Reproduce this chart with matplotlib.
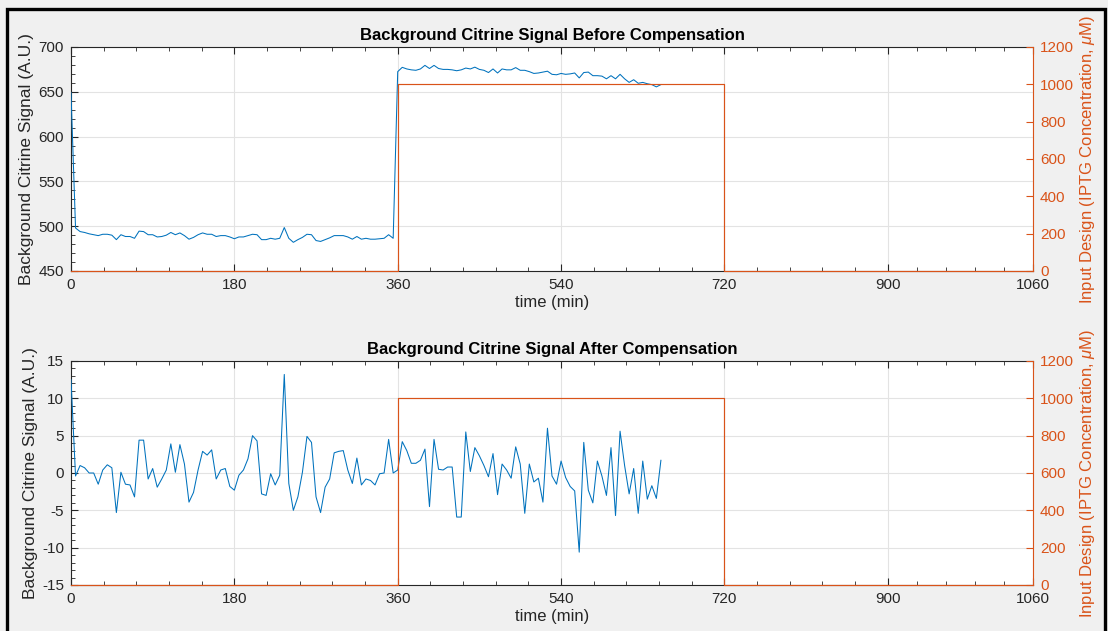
import numpy as np
import matplotlib
matplotlib.use('Agg')
import matplotlib.pyplot as plt
from matplotlib.ticker import FixedLocator
from matplotlib.patches import Rectangle

plt.rcParams['font.family'] = ['Liberation Sans', 'DejaVu Sans']
plt.rcParams['mathtext.fontset'] = 'custom'
plt.rcParams['mathtext.it'] = 'Liberation Sans:italic'
plt.rcParams['axes.unicode_minus'] = False

BLUE = '#0072BD'
ORANGE = '#D95319'
DARK = '#262626'

# sampling times (min), every 5 min up to 650
t_min = np.arange(0, 651, 5)

# background citrine signal before compensation (A.U.)
before_low = [649, 498, 494, 493, 491.5, 490.5, 489.5, 491, 491, 490, 485, 490.5,
              488.5, 488.5, 486.5, 494.5, 494, 490.5, 490.5, 488, 488.5, 490, 493, 490.5,
              492.5, 489.5, 485.5, 487.5, 490.5, 492.5, 491, 491, 488.5, 489.5, 489.5, 488,
              486, 488, 488, 489.5, 491, 490.5, 485, 485, 486.5, 485.5, 486.5, 498.5,
              486.5, 482, 485, 487.5, 491, 490.5, 484, 483, 485, 487, 489.5, 489.5,
              489.5, 488, 485.5, 488.5, 485.5, 486.5, 485.5, 485.5, 486, 486.5, 490.5, 486.5]
before_high = [672.5, 677.3, 675.5, 674.5, 674, 675.5, 679.5, 676, 679.5, 676, 675, 675,
               674.5, 673.5, 674.5, 676.5, 675.5, 677.5, 675, 674, 671.5, 675.5, 671, 675.5,
               674.5, 674.5, 677, 674, 674, 672.5, 670.5, 671, 672, 673, 669.5, 669,
               670.5, 669.5, 670, 671, 665.5, 671.5, 672, 668, 668, 667.5, 664.5, 668,
               664.5, 669.5, 664.5, 660.5, 663.5, 659.5, 660.5, 659, 658, 655.5, 658]
signal_before = before_low + before_high

# background citrine signal after compensation (A.U.)
after_low = [12.5, -0.4, 1.0, 0.7, 0, 0, -1.5, 0.4, 1.1, 0.7, -5.3, 0.1,
             -1.5, -1.6, -3.2, 4.4, 4.4, -0.8, 0.6, -1.9, -0.8, 0.4, 3.9, 0.1,
             3.8, 1.2, -3.9, -2.6, 0.4, 2.9, 2.4, 3.1, -0.8, 0.4, 0.6, -1.8,
             -2.3, -0.3, 0.4, 1.9, 5.0, 4.3, -2.8, -3.0, -0.1, -1.6, -0.3, 13.2,
             -1.4, -5.0, -3.2, 0.1, 4.9, 4.1, -3.2, -5.3, -1.9, -0.8, 2.7, 2.9,
             3.0, 0.4, -1.4, 2.0, -1.6, -0.8, -1.0, -1.6, -0.1, 0, 4.5, 0]
after_high = [0.4, 4.2, 3.0, 1.3, 1.3, 1.7, 3.2, -4.5, 4.5, 0.5, 0.4, 0.8,
              0.8, -5.9, -5.9, 5.5, 0.2, 3.4, 2.3, 1.0, -0.5, 2.6, -2.9, 1.2,
              0.4, -0.7, 3.5, 1.2, -5.4, 1.2, -1.2, -0.7, -3.9, 6.0, -0.4, -1.5,
              1.6, -0.6, -1.8, -2.4, -10.6, 4.1, -2.3, -4.0, 1.6, -0.4, -3.0, 3.4,
              -5.7, 5.6, 1.0, -2.8, 0.6, -5.4, 1.6, -3.5, -1.7, -3.4, 1.7]
signal_after = after_low + after_high

# IPTG input design (uM), step function
input_t = [0, 360, 720, 1060]
input_u = [0, 1000, 0, 0]

xticks = [0, 180, 360, 540, 720, 900, 1060]
titles = ['Background Citrine Signal Before Compensation',
          'Background Citrine Signal After Compensation']
ylims = [(450, 700), (-15, 15)]
yticks = [np.arange(450, 701, 50), np.arange(-15, 16, 5)]
yminor = [np.arange(450, 701, 10), np.arange(-15, 16, 1)]

fig = plt.figure(figsize=(11.08, 6.31), dpi=100, facecolor='#F0F0F0')

x_minor = []
for a, b in zip(xticks[:-1], xticks[1:]):
    x_minor += list(np.linspace(a, b, 6)[1:-1])

bottoms = [1 - 271 / 631, 1 - 585 / 631]
for i, sig in enumerate([signal_before, signal_after]):
    ax = fig.add_axes([71 / 1108, bottoms[i], 962 / 1108, 224 / 631])
    ax.set_facecolor('white')
    ax.plot(t_min, sig, color=BLUE, lw=0.75, zorder=3)
    ax.set_xlim(0, 1060)
    ax.set_ylim(*ylims[i])
    ax.set_xticks(xticks)
    ax.set_yticks(yticks[i])
    ax.xaxis.set_minor_locator(FixedLocator(x_minor))
    ax.yaxis.set_minor_locator(FixedLocator(yminor[i]))
    ax.grid(True, which='major', color='#E3E3E3', lw=0.8)
    ax.set_axisbelow(True)
    ax.tick_params(which='both', direction='in', top=True, right=False,
                   colors=DARK, labelsize=11, pad=5)
    ax.tick_params(which='major', length=5, width=0.8)
    ax.tick_params(which='minor', length=3, width=0.6)
    for s in ['left', 'top', 'bottom']:
        ax.spines[s].set_color(DARK)
        ax.spines[s].set_linewidth(0.8)
    ax.spines['right'].set_visible(False)
    ax.set_title(titles[i], fontsize=12, fontweight='bold', pad=5, color='black')
    ax.set_xlabel('time (min)', fontsize=12, labelpad=2, color=DARK)
    ax.set_ylabel('Background Citrine Signal (A.U.)', fontsize=12.5, labelpad=3, color=DARK)

    ax2 = ax.twinx()
    ax2.step(input_t, input_u, where='post', color=ORANGE, lw=0.85, clip_on=False, zorder=4)
    ax2.set_ylim(0, 1200)
    ax2.set_yticks(np.arange(0, 1201, 200))
    ax2.tick_params(axis='y', direction='in', colors=ORANGE, labelsize=11,
                    length=5, width=0.8, pad=5)
    for s in ['left', 'top', 'bottom']:
        ax2.spines[s].set_visible(False)
    ax2.spines['right'].set_color(ORANGE)
    ax2.spines['right'].set_linewidth(0.8)
    ax2.set_ylabel('Input Design (IPTG Concentration, $\\mu$M)', fontsize=12,
                   color=ORANGE, labelpad=3)

# black frame around the screenshot
fig.add_artist(Rectangle((6.5 / 1108, -0.05), (1104.5 - 6.5) / 1108, 1.05 - 8.5 / 631,
                         transform=fig.transFigure, fill=False, ec='black', lw=2.4))

fig.savefig('out.png', dpi=100, facecolor=fig.get_facecolor())
